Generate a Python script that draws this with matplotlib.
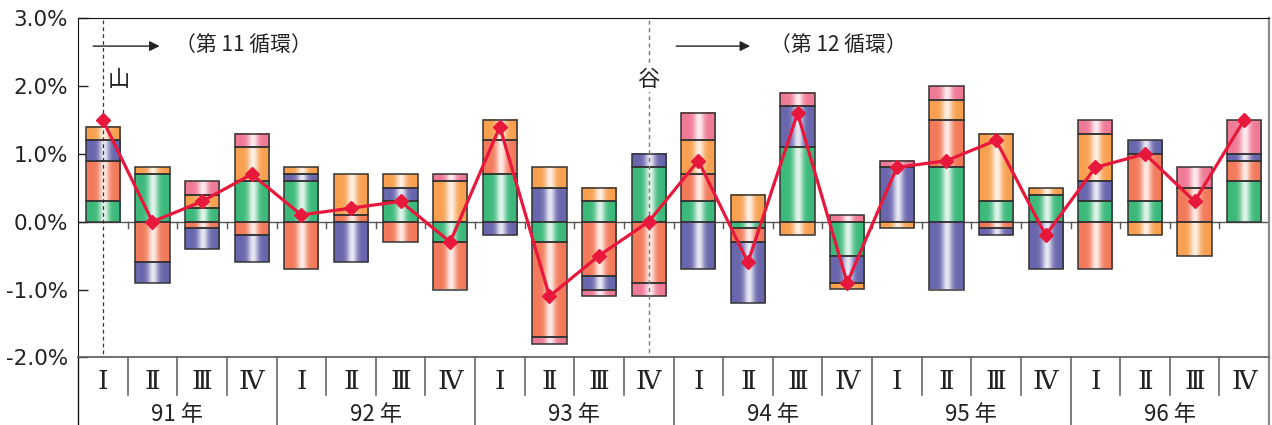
import numpy as np
import matplotlib
matplotlib.use("Agg")
import matplotlib.pyplot as plt
from matplotlib.colors import to_rgb
from matplotlib.transforms import blended_transform_factory

plt.rcParams['font.family'] = ['DejaVu Sans', 'Noto Sans CJK JP']

# quarters 91 I ... 96 IV
quarters = ["Ⅰ", "Ⅱ", "Ⅲ", "Ⅳ"] * 6
years = ["91 年", "92 年", "93 年", "94 年", "95 年", "96 年"]

# contributions (percentage points), stacked in this order
green = [0.3, 0.7, 0.2, 0.6, 0.6, 0.0, 0.3, -0.3,
         0.7, -0.3, 0.3, 0.8, 0.3, -0.1, 1.1, -0.5,
         0.0, 0.8, 0.3, 0.4, 0.3, 0.3, 0.0, 0.6]
salmon = [0.6, -0.6, -0.1, -0.2, -0.7, 0.1, -0.3, -0.7,
          0.5, -1.4, -0.8, -0.9, 0.4, -0.2, 0.0, 0.0,
          0.0, 0.7, -0.1, 0.0, -0.7, 0.7, 0.5, 0.3]
blue = [0.3, -0.3, -0.3, -0.4, 0.1, -0.6, 0.2, 0.0,
        -0.2, 0.5, -0.2, 0.2, -0.7, -0.9, 0.6, -0.4,
        0.8, -1.0, -0.1, -0.7, 0.3, 0.2, 0.0, 0.1]
orange = [0.2, 0.1, 0.2, 0.5, 0.1, 0.6, 0.2, 0.6,
          0.3, 0.3, 0.2, 0.0, 0.5, 0.4, -0.2, -0.1,
          -0.1, 0.3, 1.0, 0.1, 0.7, -0.2, -0.5, 0.0]
pink = [0.0, 0.0, 0.2, 0.2, 0.0, 0.0, 0.0, 0.1,
        0.0, -0.1, -0.1, -0.2, 0.4, 0.0, 0.2, 0.1,
        0.1, 0.2, 0.0, 0.0, 0.2, 0.0, 0.3, 0.5]
total = [1.5, 0.0, 0.3, 0.7, 0.1, 0.2, 0.3, -0.3,
         1.4, -1.1, -0.5, 0.0, 0.9, -0.6, 1.6, -0.9,
         0.8, 0.9, 1.2, -0.2, 0.8, 1.0, 0.3, 1.5]

y_ticks = [3.0, 2.0, 1.0, 0.0, -1.0, -2.0]
y_labels = ["3.0%", "2.0%", "1.0%", "0.0%", "-1.0%", "-2.0%"]


def shade(base, n=80):
    # horizontal gradient: base colour at the edges, light in the middle
    t = np.linspace(0, 1, n)
    k = 0.85 * np.exp(-((t - 0.52) / 0.15) ** 2)
    c = np.array(to_rgb(base))
    img = c[None, :] * (1 - k[:, None]) + k[:, None]
    return img[None, :, :]


def main():
    fig = plt.figure(figsize=(12.72, 4.25), dpi=100)
    ax = fig.add_axes([78 / 1272, 67.7 / 425, 1191 / 1272, 339 / 425])

    x = np.arange(len(total))
    w = 0.69
    series = [(green, "#3cb97a"), (salmon, "#f27a5a"), (blue, "#6a66ad"),
              (orange, "#f8a050"), (pink, "#ef7a95")]

    pos = np.zeros(len(x))
    neg = np.zeros(len(x))
    for vals, col in series:
        img = shade(col)
        for i, v in enumerate(vals):
            if v == 0:
                continue
            if v > 0:
                y0 = pos[i]
                pos[i] = round(pos[i] + v, 3)
            else:
                y0 = neg[i]
                neg[i] = round(neg[i] + v, 3)
            ax.bar(i, v, bottom=y0, width=w, facecolor="none",
                   edgecolor="#333333", linewidth=1.1, zorder=3)
            ax.imshow(img, extent=[i - w / 2, i + w / 2, min(y0, y0 + v), max(y0, y0 + v)],
                      aspect="auto", interpolation="bilinear", zorder=2)

    # zero line with small ticks at quarter boundaries
    ax.axhline(0, color="#555555", lw=1.0, zorder=1.5)
    for b in np.arange(0.5, 23.5, 1):
        ax.plot([b, b], [0, -0.1], color="#555555", lw=1.0, zorder=1.5)

    # peak / trough markers
    ax.plot([0, 0], [2.97, -2.0], color="#333333", lw=0.9, ls=(0, (3, 2.5)), zorder=4)
    ax.plot([11, 11], [2.97, -2.0], color="#777777", lw=1.0, ls=(0, (3, 2.5)), zorder=4)
    ax.text(0.33, 2.1, "山", family=["Noto Sans CJK JP"], fontsize=16,
            ha="center", va="center", color="#222222")
    ax.text(11, 2.1, "谷", family=["Noto Sans CJK JP"], fontsize=16,
            ha="center", va="center", color="#222222",
            bbox=dict(facecolor="white", edgecolor="none", pad=1.0), zorder=4.5)

    ax.annotate("", xy=(1.2, 2.59), xytext=(-0.25, 2.59),
                arrowprops=dict(arrowstyle="-|>", color="#222222", lw=1.0, mutation_scale=15))
    ax.text(1.45, 2.61, "（第 11 循環）", family=["Noto Sans CJK JP"], fontsize=15,
            ha="left", va="center", color="#222222")
    ax.annotate("", xy=(13.1, 2.59), xytext=(11.5, 2.59),
                arrowprops=dict(arrowstyle="-|>", color="#222222", lw=1.0, mutation_scale=15))
    ax.text(13.45, 2.61, "（第 12 循環）", family=["Noto Sans CJK JP"], fontsize=15,
            ha="left", va="center", color="#222222")

    # total growth line
    ax.plot(x, total, color="#e8183c", lw=2.3, marker="D", ms=7, zorder=6)

    ax.set_xlim(-0.5, 23.5)
    ax.set_ylim(-2.0, 3.0)
    ax.set_yticks(y_ticks)
    ax.set_yticklabels(y_labels)
    ax.set_xticks([])
    ax.tick_params(axis="y", direction="in", length=7, width=1.0, labelsize=15.5,
                   pad=7, colors="#222222")
    ax.spines["top"].set_color("#111111")
    ax.spines["left"].set_color("#111111")
    ax.spines["right"].set_color("#8a8a8a")
    ax.spines["right"].set_linewidth(1.6)
    ax.spines["bottom"].set_color("#666666")
    ax.spines["bottom"].set_linewidth(1.3)

    # category table under the plot
    tr = blended_transform_factory(ax.transData, ax.transAxes)
    for i, q in enumerate(quarters):
        ax.text(i, -0.07, q, transform=tr, family=["DejaVu Serif", "Noto Sans CJK JP"],
                fontsize=19, ha="center", va="center", color="#222222")
    for b in np.arange(0.5, 23.5, 1):
        if b % 4 == 3.5:
            ax.plot([b, b], [0, -0.2], transform=tr, color="#666666", lw=1.2, clip_on=False)
        else:
            ax.plot([b, b], [0, -0.111], transform=tr, color="#666666", lw=1.2, clip_on=False)
    for k, yr in enumerate(years):
        ax.text(4 * k + 1.5, -0.168, yr, transform=tr, family=["Noto Sans CJK JP"],
                fontsize=16, ha="center", va="center", color="#222222")
    ax.plot([-0.5, -0.5], [0, -0.2], transform=tr, color="#111111", lw=1.0, clip_on=False)
    ax.plot([23.5, 23.5], [0, -0.2], transform=tr, color="#8a8a8a", lw=1.6, clip_on=False)

    fig.savefig("out.png", dpi=100)


if __name__ == "__main__":
    main()
